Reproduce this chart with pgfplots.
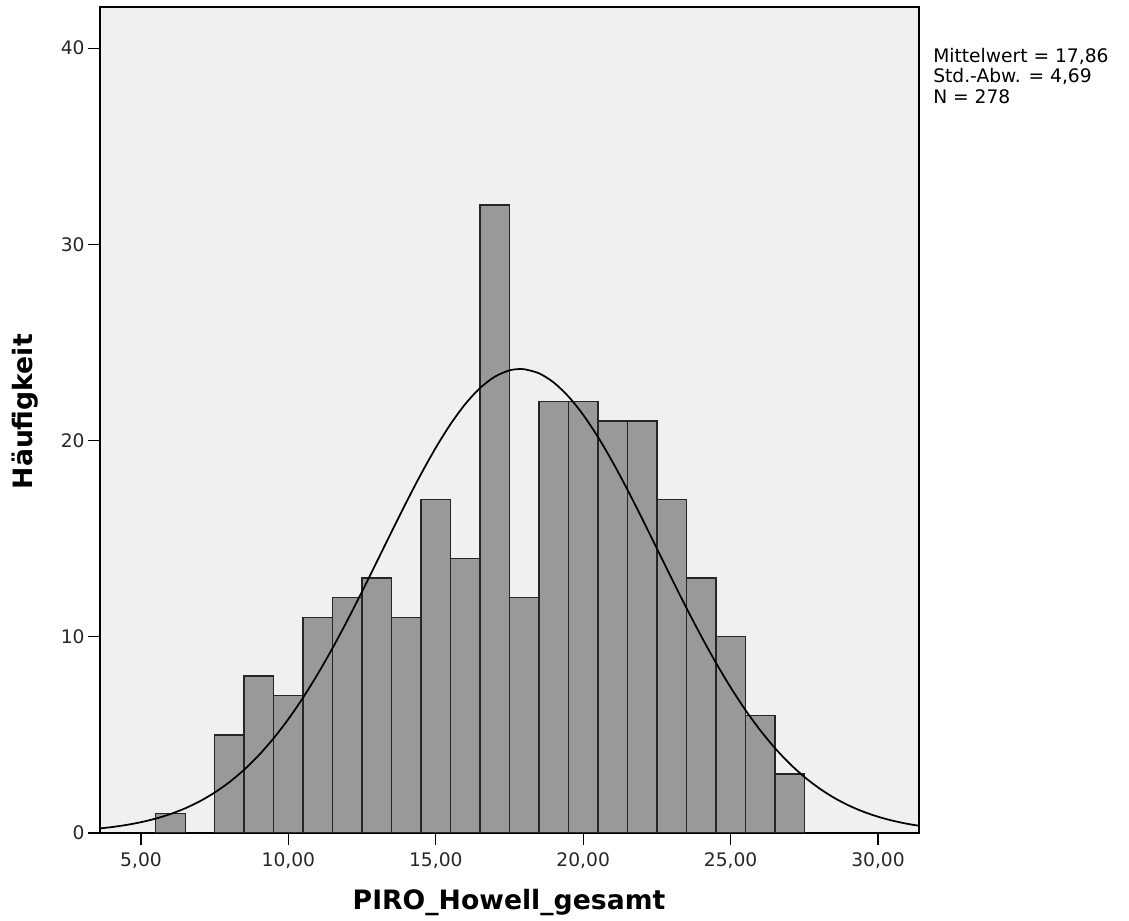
\documentclass[border=0pt]{standalone}
\usepackage{pgfplots}
\pgfplotsset{compat=1.18}
\usepackage{fontspec}
\setmainfont{DejaVu Sans}
\definecolor{bgc}{HTML}{F0F0F0}
\definecolor{barc}{HTML}{999999}
\begin{document}
\begin{tikzpicture}
\path[use as bounding box] (-75pt,-66pt) rectangle (771.75pt,624.75pt);
\begin{axis}[
  at={(0,0)}, anchor=south west,
  scale only axis,
  width=614.25pt, height=619.5pt,
  xmin=3.61, xmax=31.39,
  ymin=0, ymax=42.1,
  axis background/.style={fill=bgc},
  axis line style={black, line width=0.9pt},
  xtick={5,10,15,20,25,30},
  ytick={0,10,20,30,40},
  xticklabels={{5,00},{10,00},{15,00},{20,00},{25,00},{30,00}},
  tick align=outside,
  major tick length=9pt,
  tick style={black, line width=0.9pt},
  xtick pos=bottom, ytick pos=left,
  /pgf/number format/assume math mode=true,
  tick label style={font=\fontsize{14}{16}\selectfont, text=black!85},
  xticklabel style={yshift=-2pt},
  yticklabel style={xshift=1pt},
  xlabel={PIRO\_Howell\_gesamt},
  ylabel={Häufigkeit},
  label style={font=\fontsize{20}{24}\selectfont\bfseries},
  xlabel style={at={(rel axis cs:0.4994,0)}, anchor=center, yshift=-52.5pt},
  ylabel style={at={(rel axis cs:0,0.51)}, anchor=center, yshift=56pt},
  clip=true,
]
\addplot[ybar, bar width=1, bar shift=0, fill=barc, draw=black!85, line width=1pt] coordinates {
 (6,1) (8,5) (9,8) (10,7) (11,11) (12,12) (13,13) (14,11) (15,17) (16,14)
 (17,32) (18,12) (19,22) (20,22) (21,21) (22,21) (23,17) (24,13) (25,10) (26,6) (27,3)
};
\addplot[smooth, black, line width=1.3pt, mark=none] coordinates {
 (3.6,0.232) (4,0.300) (4.5,0.409) (5,0.551) (5.5,0.734) (6,0.967) (6.5,1.259)
 (7,1.621) (7.5,2.062) (8,2.594) (8.5,3.227) (9,3.971) (9.5,4.829) (10,5.807)
 (10.5,6.903) (11,8.115) (11.5,9.430) (12,10.835) (12.5,12.308) (13,13.825)
 (13.5,15.353) (14,16.855) (14.5,18.298) (15,19.638) (15.5,20.838) (16,21.862)
 (16.5,22.677) (17,23.256) (17.5,23.580) (17.86,23.650) (18,23.639) (18.5,23.431)
 (19,22.961) (19.5,22.247) (20,21.312) (20.5,20.185) (21,18.902) (21.5,17.500)
 (22,16.019) (22.5,14.498) (23,12.972) (23.5,11.476) (24,10.038) (24.5,8.681)
 (25,7.423) (25.5,6.274) (26,5.245) (26.5,4.334) (27,3.541) (27.5,2.860)
 (28,2.285) (28.5,1.804) (29,1.408) (29.5,1.087) (30,0.830) (30.5,0.626)
 (31,0.467) (31.4,0.366)
};
\end{axis}
\node[anchor=north west, align=left, inner sep=0pt, font=\fontsize{14}{15.4}\selectfont]
  at (624.75pt, 589pt) {Mittelwert = 17,86\\Std.-Abw. = 4,69\\N = 278};
\end{tikzpicture}
\end{document}
